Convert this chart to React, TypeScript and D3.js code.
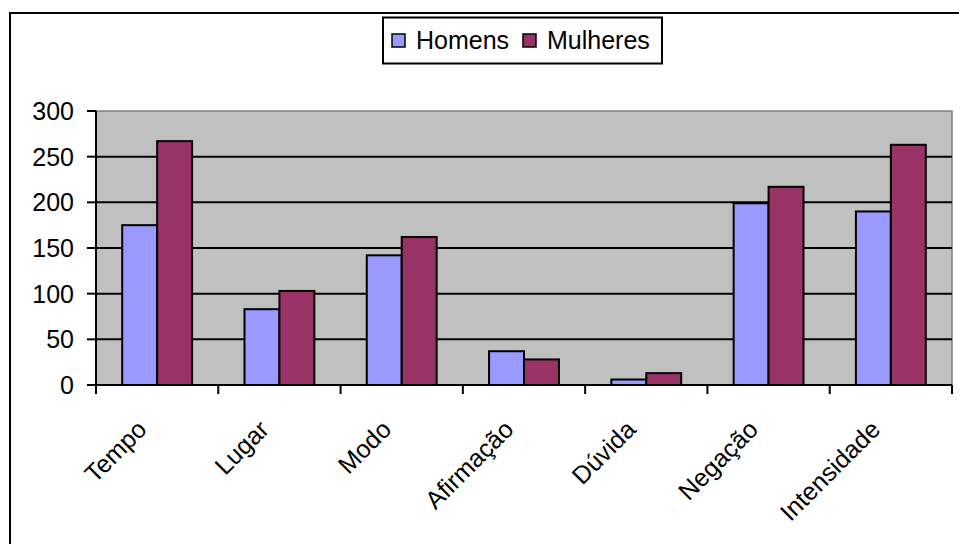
import React, { useRef, useEffect } from "react";
import * as d3 from "d3";

const CATEGORIES = ["Tempo", "Lugar", "Modo", "Afirmação", "Dúvida", "Negação", "Intensidade"];
const HOMENS = [175, 83, 142, 37, 6, 199, 190];
const MULHERES = [267, 103, 162, 28, 13, 217, 263];
const SERIES_NAMES = ["Homens", "Mulheres"];
const Y_TICKS = [0, 50, 100, 150, 200, 250, 300];

const COLORS = ["#9999FF", "#993366"];
const FONT = "'Liberation Sans', Arial, sans-serif";
const W = 959;
const H = 544;
const PLOT = { left: 96, right: 952, top: 111, bottom: 385 };

export default function App() {
  const svgRef = useRef<SVGSVGElement | null>(null);

  useEffect(() => {
    if (!svgRef.current) return;
    const svg = d3.select(svgRef.current);
    svg.selectAll("*").remove();

    // outer chart border (right/bottom sit outside the picture)
    svg
      .append("rect")
      .attr("x", 10)
      .attr("y", 13)
      .attr("width", W + 20)
      .attr("height", H + 20)
      .attr("fill", "#fff")
      .attr("stroke", "#000")
      .attr("stroke-width", 2);

    const x = d3
      .scaleBand<string>()
      .domain(CATEGORIES)
      .range([PLOT.left, PLOT.right])
      .paddingInner(0)
      .paddingOuter(0);

    const y = d3.scaleLinear().domain([0, 300]).range([PLOT.bottom, PLOT.top]);

    // plot area background
    svg
      .append("rect")
      .attr("x", PLOT.left)
      .attr("y", PLOT.top)
      .attr("width", PLOT.right - PLOT.left)
      .attr("height", PLOT.bottom - PLOT.top)
      .attr("fill", "#C0C0C0")
      .attr("stroke", "#808080")
      .attr("stroke-width", 1.5);

    // gridlines
    svg
      .append("g")
      .selectAll("line")
      .data(Y_TICKS.filter((t) => t > 0 && t < 300))
      .join("line")
      .attr("x1", PLOT.left)
      .attr("x2", PLOT.right)
      .attr("y1", (d) => y(d))
      .attr("y2", (d) => y(d))
      .attr("stroke", "#000")
      .attr("stroke-width", 2);

    // bars
    const band = x.bandwidth();
    const barW = band / 3.5;
    const xs = d3
      .scaleBand<string>()
      .domain(SERIES_NAMES)
      .range([0.75 * barW, 0.75 * barW + 2 * barW]);

    [HOMENS, MULHERES].forEach((vals, si) => {
      svg
        .append("g")
        .selectAll("rect")
        .data(vals)
        .join("rect")
        .attr("x", (_, i) => (x(CATEGORIES[i]) as number) + (xs(SERIES_NAMES[si]) as number))
        .attr("y", (d) => y(d))
        .attr("width", xs.bandwidth())
        .attr("height", (d) => y(0) - y(d))
        .attr("fill", COLORS[si])
        .attr("stroke", "#000")
        .attr("stroke-width", 2);
    });

    // y axis
    const yAxis = svg.append("g");
    yAxis
      .append("line")
      .attr("x1", PLOT.left)
      .attr("x2", PLOT.left)
      .attr("y1", PLOT.top)
      .attr("y2", PLOT.bottom)
      .attr("stroke", "#000")
      .attr("stroke-width", 2);
    yAxis
      .selectAll("line.tick")
      .data(Y_TICKS)
      .join("line")
      .attr("class", "tick")
      .attr("x1", PLOT.left - 9)
      .attr("x2", PLOT.left)
      .attr("y1", (d) => y(d))
      .attr("y2", (d) => y(d))
      .attr("stroke", "#000")
      .attr("stroke-width", 2);
    yAxis
      .selectAll("text")
      .data(Y_TICKS)
      .join("text")
      .attr("x", 74)
      .attr("y", (d) => y(d))
      .attr("dy", "0.36em")
      .attr("text-anchor", "end")
      .attr("font-family", FONT)
      .attr("font-size", 25)
      .text((d) => d);

    // x axis
    const xAxis = svg.append("g");
    xAxis
      .append("line")
      .attr("x1", PLOT.left)
      .attr("x2", PLOT.right)
      .attr("y1", PLOT.bottom)
      .attr("y2", PLOT.bottom)
      .attr("stroke", "#000")
      .attr("stroke-width", 2);
    const tickXs = CATEGORIES.map((c) => x(c) as number).concat(PLOT.right);
    xAxis
      .selectAll("line.tick")
      .data(tickXs)
      .join("line")
      .attr("class", "tick")
      .attr("x1", (d) => d)
      .attr("x2", (d) => d)
      .attr("y1", PLOT.bottom)
      .attr("y2", PLOT.bottom + 9)
      .attr("stroke", "#000")
      .attr("stroke-width", 2);
    xAxis
      .selectAll("text")
      .data(CATEGORIES)
      .join("text")
      .attr(
        "transform",
        (d) => `translate(${(x(d) as number) + band / 2 - 9},${PLOT.bottom + 46}) rotate(-45)`
      )
      .attr("text-anchor", "end")
      .attr("font-family", FONT)
      .attr("font-size", 25)
      .text((d) => d);

    // legend
    const legend = svg.append("g");
    legend
      .append("rect")
      .attr("x", 383)
      .attr("y", 17.5)
      .attr("width", 279)
      .attr("height", 46)
      .attr("fill", "#fff")
      .attr("stroke", "#000")
      .attr("stroke-width", 2);
    const legendX = [392, 523];
    SERIES_NAMES.forEach((name, i) => {
      legend
        .append("rect")
        .attr("x", legendX[i])
        .attr("y", 34)
        .attr("width", 13)
        .attr("height", 13)
        .attr("fill", COLORS[i])
        .attr("stroke", "#000")
        .attr("stroke-width", 1.5);
      legend
        .append("text")
        .attr("x", legendX[i] + 24)
        .attr("y", 49)
        .attr("font-family", FONT)
        .attr("font-size", 25)
        .text(name);
    });
  }, []);

  return (
    <svg
      ref={svgRef}
      width={W}
      height={H}
      style={{ position: "absolute", left: 0, top: 0, background: "#fff" }}
    />
  );
}
